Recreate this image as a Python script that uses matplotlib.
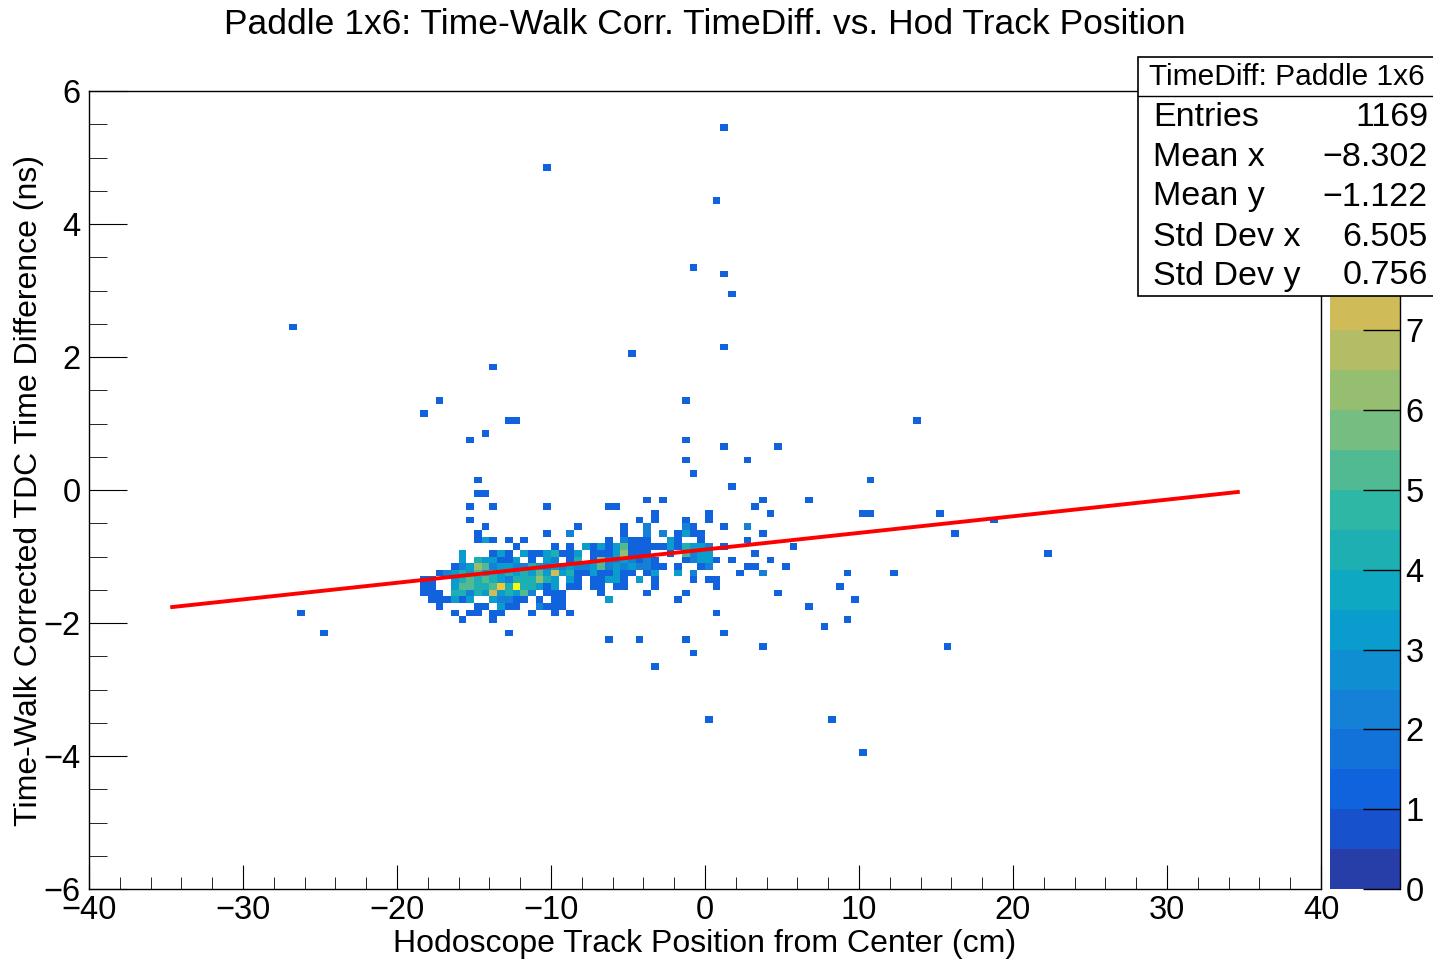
import numpy as np
import matplotlib.pyplot as plt
from matplotlib.colors import LinearSegmentedColormap, ListedColormap, BoundaryNorm
from matplotlib.patches import Rectangle
from matplotlib.lines import Line2D

plt.rcParams['font.family'] = ['Liberation Sans', 'DejaVu Sans']

# binning of the 2D histogram (cm, ns)
x_edges = np.linspace(-40, 40, 161)
y_edges = np.linspace(-6, 6, 121)

# dense core, one string per y-bin (row 57 = top bin 0.2..0.3 ns, going down)
# each char is the content of x-bins 42..91, '.' = empty, 'a' = 10
core_row0 = 57
core_col0 = 42
core_rows = [
    ".......... .......... .......... ......1... ..........",  # 57
    "........1. .......... .......... .......... ..........",  # 58
    ".......... .......... .......... .......... .1........",  # 59
    "........11 .......... .......... .......... ..........",  # 60
    ".......... .......... .......... 1.1....... .....1....",  # 61
    ".......1.. 1......1.. .....11... .......... ....1.....",  # 62
    ".......... .......... .......... .1......1. ......1...",  # 63
    ".......1.. .......... .........1 .1...1..1. ..........",  # 64
    ".........1 .......... .1.....1.. 2....21... 1..2......",  # 65
    "........1. .......1.. 2......1.. 2.2.1311.. .....1....",  # 66
    "........13 1.1.1..... .....1.211 1..31..1.. ...1......",  # 67
    ".......... ...1....1. 1.31313511 111314332. 1........1",  # 68
    "......3... 131.311341 13.1113611 1..1.5233. ....1.....",  # 69
    "......3.43 3113.1.32. 14.1622321 21...12331 .1....1...",  # 70
    ".....12365 2332243232 3223523232 211.1..12. ...11...1.",  # 71
    "...1234353 4343435373 411311311. 13..3.2... ..1..2....",  # 72
    ".11..34545 432444643. 31.11331.3 .1....1.11 ..........",  # 73
    ".11..35544 584a44313. 11.11.11.. .1.......1 ..........",  # 74
    ".111.44243 734352.111 ....1..... 1....1.... .......1..",  # 75
    "..111313.. 32211.1.11 .....3.... ....1..... ..........",  # 76
    "...1....11 .311..2111 .......... .......... ..........",  # 77
    ".....1.11. 11...1..1. 1......... .........1 ..........",  # 78
    "......1... 1......... .......... .......... ..........",  # 79
    ".......... .......... .......... .......... ..........",  # 80
    ".......... ..1....... .......... .......... 1.........",  # 81
    ".......... .......... .....1...1 .....1.... ..........",  # 82
    ".......... .......... .......... .......... .....1....",  # 83
    ".......... .......... .......... ......1... ..........",  # 84
]

# isolated single entries outside the core
out_x = [1.17, -10.32, 0.71, -0.78, 1.17, 1.69, -26.88, -4.81, 1.17, -13.83,
         -17.34, -18.31, -1.30, -12.73, -12.21, 13.70, -15.32, -14.29, -1.30, 1.17,
         4.68, -1.30, 2.66, 10.71, 6.69, 10.19, 10.71, 15.26, 16.23, 18.70,
         22.14, 12.21, 9.22, 8.70, 9.74, 6.69, 7.66, 9.22, -26.36, -24.81,
         -3.31, 0.26, 8.18, 10.19, 15.71]
out_y = [5.47, 4.87, 4.36, 3.37, 3.28, 2.96, 2.47, 2.08, 2.17, 1.86,
         1.35, 1.16, 1.35, 1.05, 1.05, 1.05, 0.78, 0.86, 0.78, 0.68,
         0.68, 0.47, 0.47, 0.17, -0.12, -0.33, -0.33, -0.33, -0.65, -0.45,
         -0.93, -1.23, -1.23, -1.43, -1.62, -1.73, -2.03, -1.92, -1.83, -2.14,
         -2.63, -3.44, -3.44, -3.94, -2.35]

# linear fit pol1
fit_p0 = -0.895
fit_p1 = 0.025
fit_xmin, fit_xmax = -34.6, 34.6

z_max = 10
z_ticks = np.arange(0, 8)   # upper labels are hidden under the stats box anyway
stats_names = ["Entries", "Mean x", "Mean y", "Std Dev x", "Std Dev y"]
stats_vals = ["1169", "\u22128.302", "\u22121.122", "6.505", "0.756"]

# collect entries
xs, ys, ws = [], [], []
for r, row in enumerate(core_rows):
    row = row.replace(" ", "")
    j = core_row0 + r
    for c, ch in enumerate(row):
        if ch == ".":
            continue
        k = core_col0 + c
        xs.append(x_edges[k] + 0.25)
        ys.append(6 - 0.1 * j - 0.05)
        ws.append(int(ch, 16))
xs += out_x
ys += out_y
ws += [1] * len(out_x)

H, _, _ = np.histogram2d(xs, ys, bins=[x_edges, y_edges], weights=ws)
H = np.ma.masked_where(H <= 0, H)

# ROOT kBird palette, 20 contour levels
stops = [0.0, 0.125, 0.25, 0.375, 0.5, 0.625, 0.75, 0.875, 1.0]
red = [0.2082, 0.0592, 0.0780, 0.0232, 0.1802, 0.5301, 0.8186, 0.9956, 0.9764]
green = [0.1664, 0.3599, 0.5041, 0.6419, 0.7178, 0.7492, 0.7328, 0.7862, 0.9832]
blue = [0.5293, 0.8684, 0.8385, 0.7914, 0.6425, 0.4662, 0.3499, 0.1968, 0.0539]
bird = LinearSegmentedColormap.from_list(
    "bird", list(zip(stops, zip(red, green, blue))))
nlev = 20
cols = [bird(min((i + 0.99) / nlev, 1.0)) for i in range(nlev)]
cmap = ListedColormap(cols).with_extremes(over=cols[-1])
norm = BoundaryNorm(np.linspace(0, z_max, nlev + 1), nlev)

W, Hpx = 1433, 960
fs = 23.5
fig = plt.figure(figsize=(W / 100, Hpx / 100), dpi=100)
ax = fig.add_axes([89 / W, 71 / Hpx, 1232 / W, 798 / Hpx])
cax = fig.add_axes([1330 / W, 71 / Hpx, 70 / W, 798 / Hpx])

mesh = ax.pcolormesh(x_edges, y_edges, H.T, cmap=cmap, norm=norm)

fx = np.linspace(fit_xmin, fit_xmax, 200)
ax.plot(fx, fit_p0 + fit_p1 * fx, color='red', lw=2.8)

ax.set_xlim(-40, 40)
ax.set_ylim(-6, 6)
ax.set_xticks(np.arange(-40, 41, 10))
ax.set_xticks(np.arange(-40, 41, 2), minor=True)
ax.set_yticks(np.arange(-6, 7, 2))
ax.set_yticks(np.arange(-6, 6.1, 0.5), minor=True)
ax.tick_params(axis='both', which='both', direction='in', top=False, right=False,
               labelsize=fs)
ax.tick_params(axis='x', which='major', length=17, pad=4)
ax.tick_params(axis='x', which='minor', length=9)
ax.tick_params(axis='y', which='major', length=27, pad=6)
ax.tick_params(axis='y', which='minor', length=13)
for s in ax.spines.values():
    s.set_linewidth(1)

ax.set_xlabel("Hodoscope Track Position from Center (cm)", fontsize=23, va='center')
ax.xaxis.set_label_coords(0.5, -0.069)
ax.set_ylabel("Time-Walk Corrected TDC Time Difference (ns)", fontsize=23, va='center')
ax.yaxis.set_label_coords(-0.049, 0.5)
fig.text(705 / W, 1 - 24 / Hpx, "Paddle 1x6: Time-Walk Corr. TimeDiff. vs. Hod Track Position",
         ha='center', va='center', fontsize=25.5)

# palette axis
cb = fig.colorbar(mesh, cax=cax, ticks=z_ticks)
cb.outline.set_visible(False)
cax.tick_params(direction='in', length=27, width=1, labelsize=fs, pad=4)
cax.minorticks_off()
cax.add_line(Line2D([1, 1], [0, 1], transform=cax.transAxes, color='black', lw=1,
                    clip_on=False))

# stats box
bx0, by0, bx1, by1 = 1138, 57, 1440, 296
fig.patches.append(Rectangle((bx0 / W, 1 - by1 / Hpx), (bx1 - bx0) / W, (by1 - by0) / Hpx,
                             transform=fig.transFigure, facecolor='white',
                             edgecolor='black', lw=1.2, zorder=10))
fig.lines.append(Line2D([bx0 / W, 1], [1 - 96 / Hpx, 1 - 96 / Hpx],
                        transform=fig.transFigure, color='black', lw=1, zorder=11))
fig.text(1287 / W, 1 - 77 / Hpx, "TimeDiff: Paddle 1x6", ha='center', va='center',
         fontsize=21.5, zorder=12)
row_y = [117, 157, 197, 237, 276]
for name, val, yy in zip(stats_names, stats_vals, row_y):
    fig.text(1153 / W, 1 - yy / Hpx, name, ha='left', va='center', fontsize=24.5, zorder=12)
    fig.text(1428 / W, 1 - yy / Hpx, val, ha='right', va='center', fontsize=24.5, zorder=12)

fig.savefig("out.png", dpi=100)
